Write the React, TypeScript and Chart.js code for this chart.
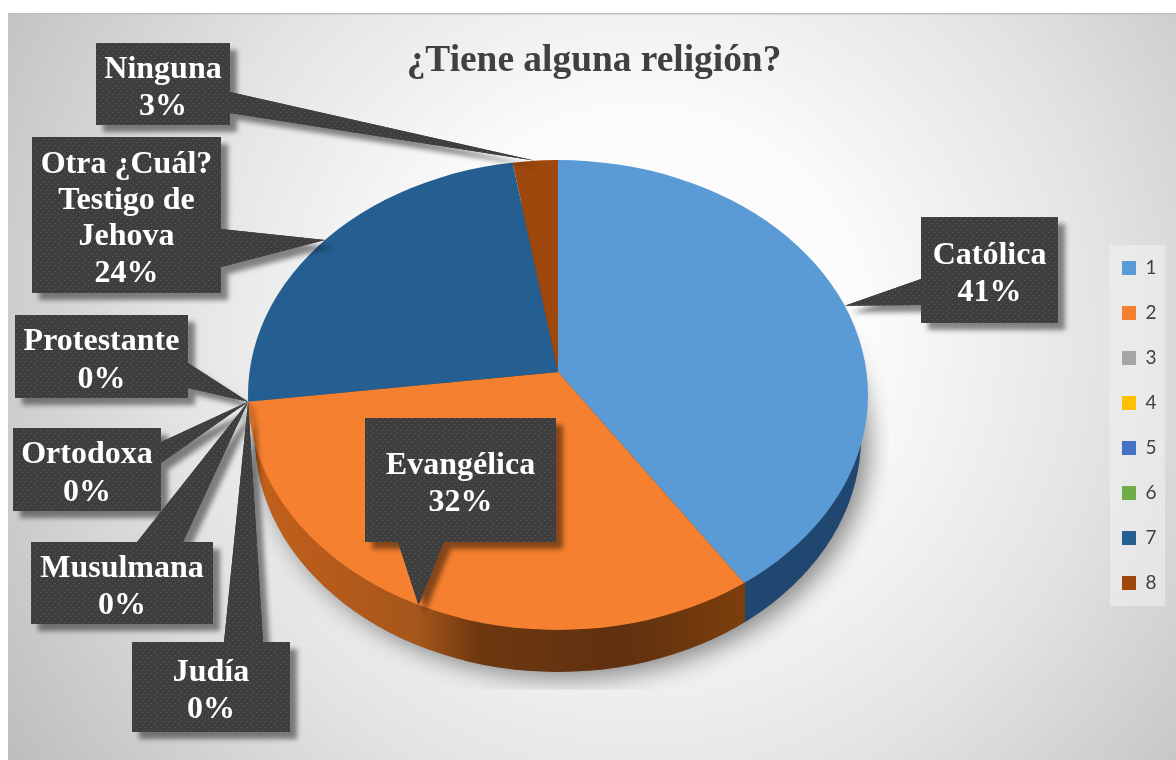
import React, { useEffect, useRef } from "react";
import { Chart, registerables } from "chart.js";

Chart.register(...registerables);

// ---------- data ----------
const titleText = "¿Tiene alguna religión?";
const legendKeys = ["1", "2", "3", "4", "5", "6", "7", "8"];
const categoryNames = [
  ["Católica"],
  ["Evangélica"],
  ["Protestante"],
  ["Ortodoxa"],
  ["Musulmana"],
  ["Judía"],
  ["Otra ¿Cuál?", "Testigo de", "Jehova"],
  ["Ninguna"],
];
const percentValues = [40.6, 32.4, 0, 0, 0, 0, 24.4, 2.6];
const sliceColors = ["#5b9bd5", "#f5802f", "#a5a5a5", "#ffc000", "#4472c4", "#70ad47", "#255e91", "#9e480e"];

// ---------- layout (callout boxes, by slice index) ----------
type Box = { x0: number; y0: number; x1: number; y1: number; side: "l" | "r" | "t" | "b"; a: number; b: number };
const calloutBoxes: Box[] = [
  { x0: 921, y0: 217, x1: 1058, y1: 323, side: "l", a: 279, b: 305 },
  { x0: 365, y0: 418, x1: 556, y1: 542, side: "b", a: 398, b: 444 },
  { x0: 15, y0: 315, x1: 188, y1: 398, side: "r", a: 363, b: 388 },
  { x0: 13, y0: 428, x1: 161, y1: 511, side: "r", a: 442, b: 463 },
  { x0: 31, y0: 542, x1: 213, y1: 624, side: "t", a: 137, b: 183 },
  { x0: 132, y0: 642, x1: 290, y1: 732, side: "t", a: 224, b: 263 },
  { x0: 32, y0: 137, x1: 221, y1: 293, side: "r", a: 229, b: 267 },
  { x0: 96, y0: 43, x1: 230, y1: 125, side: "r", a: 92, b: 113 },
];
const APEX_X = 558;
const APEX_Y = 372;
const RIM_CY = 395;
const RIM_RX = 310;
const RIM_RY = 235;
const SQUASH = 0.76;
const DEPTH = 42;
const LOWER_RX = 303;
const SERIF = '"Liberation Serif", "Times New Roman", serif';

function makeDots(ctx: CanvasRenderingContext2D) {
  const c = document.createElement("canvas");
  c.width = 6;
  c.height = 6;
  const g = c.getContext("2d")!;
  g.fillStyle = "#3e3e3e";
  g.fillRect(0, 0, 6, 6);
  g.fillStyle = "rgba(255,255,255,0.17)";
  g.fillRect(1, 1, 1, 1);
  g.fillRect(4, 4, 1, 1);
  return ctx.createPattern(c, "repeat")!;
}

function rimPoint(midAngle: number) {
  const dx = Math.cos(midAngle);
  const dy = Math.sin(midAngle) * SQUASH;
  const oy = APEX_Y - RIM_CY;
  const A = (dx * dx) / (RIM_RX * RIM_RX) + (dy * dy) / (RIM_RY * RIM_RY);
  const B = (2 * oy * dy) / (RIM_RY * RIM_RY);
  const C = (oy * oy) / (RIM_RY * RIM_RY) - 1;
  const t = (-B + Math.sqrt(B * B - 4 * A * C)) / (2 * A);
  return { x: APEX_X + dx * t, y: APEX_Y + dy * t };
}

function calloutPath(ctx: CanvasRenderingContext2D, b: Box, tip: { x: number; y: number }) {
  ctx.beginPath();
  ctx.moveTo(b.x0, b.y0);
  if (b.side === "t") {
    ctx.lineTo(b.a, b.y0);
    ctx.lineTo(tip.x, tip.y);
    ctx.lineTo(b.b, b.y0);
  }
  ctx.lineTo(b.x1, b.y0);
  if (b.side === "r") {
    ctx.lineTo(b.x1, b.a);
    ctx.lineTo(tip.x, tip.y);
    ctx.lineTo(b.x1, b.b);
  }
  ctx.lineTo(b.x1, b.y1);
  if (b.side === "b") {
    ctx.lineTo(b.b, b.y1);
    ctx.lineTo(tip.x, tip.y);
    ctx.lineTo(b.a, b.y1);
  }
  ctx.lineTo(b.x0, b.y1);
  if (b.side === "l") {
    ctx.lineTo(b.x0, b.b);
    ctx.lineTo(tip.x, tip.y);
    ctx.lineTo(b.x0, b.a);
  }
  ctx.closePath();
}

const chartFacePlugin = {
  id: "chartFace",
  afterLayout(chart: any) {
    // keep the pie centre on its place whatever the legend and title take
    chart.chartArea.left = 8;
    chart.chartArea.right = 1108;
    chart.chartArea.top = 80;
    chart.chartArea.bottom = 664;
    chart.legend.left = 1096;
    chart.legend.top = 232.5;
    chart.titleBlock.left += 6;
    chart.titleBlock.right += 6;
  },
  beforeDraw(chart: any) {
    const { ctx } = chart;
    ctx.save();
    ctx.fillStyle = "#ffffff";
    ctx.fillRect(0, 0, 1176, 760);
    const g = ctx.createRadialGradient(640, 340, 0, 640, 340, 760);
    g.addColorStop(0, "#ffffff");
    g.addColorStop(0.3, "#fbfbfb");
    g.addColorStop(0.62, "#e3e3e3");
    g.addColorStop(1, "#bdbdbd");
    ctx.fillStyle = g;
    ctx.fillRect(8, 14, 1168, 746);
    ctx.fillStyle = "#bfbfbf";
    ctx.fillRect(8, 13, 1168, 1.5);
    ctx.fillStyle = "rgba(242,242,242,0.55)";
    ctx.fillRect(1110, 245, 55, 361);
    ctx.restore();
  },
  beforeDatasetsDraw(chart: any) {
    const { ctx } = chart;
    const sideY = RIM_CY + DEPTH;
    const lower = () => {
      ctx.beginPath();
      ctx.ellipse(APEX_X, sideY, LOWER_RX, RIM_RY, 0, 0, Math.PI * 2);
    };
    // soft shadow of the pie, cut off like the reference
    ctx.save();
    ctx.beginPath();
    ctx.rect(0, 0, 889, 689.5);
    ctx.clip();
    ctx.shadowColor = "rgba(0,0,0,0.45)";
    ctx.shadowBlur = 24;
    ctx.shadowOffsetX = 8;
    ctx.shadowOffsetY = 6;
    ctx.fillStyle = "#777";
    lower();
    ctx.fill();
    ctx.restore();
    // side walls
    const brown = ctx.createLinearGradient(250, 0, 745, 0);
    brown.addColorStop(0, "#c4601b");
    brown.addColorStop(0.34, "#a5561b");
    brown.addColorStop(0.46, "#6e3810");
    brown.addColorStop(0.75, "#5f300f");
    brown.addColorStop(1, "#7c3f0c");
    ctx.save();
    ctx.beginPath();
    ctx.rect(0, 0, 745, 760);
    ctx.clip();
    ctx.fillStyle = brown;
    lower();
    ctx.fill();
    ctx.restore();
    ctx.save();
    ctx.beginPath();
    ctx.rect(745, 0, 431, 760);
    ctx.clip();
    ctx.fillStyle = "#20476f";
    lower();
    ctx.fill();
    ctx.restore();
    // squash the library's round pie to the tilted top face
    ctx.save();
    ctx.beginPath();
    ctx.ellipse(APEX_X, RIM_CY, RIM_RX, RIM_RY, 0, 0, Math.PI * 2);
    ctx.clip();
    const el = chart.getDatasetMeta(0).data[0];
    ctx.translate(el.x, el.y);
    ctx.scale(1, SQUASH);
    ctx.translate(-el.x, -el.y);
  },
  afterDatasetsDraw(chart: any) {
    const { ctx } = chart;
    ctx.restore();
    const dots = makeDots(ctx);
    const arcs = chart.getDatasetMeta(0).data;
    const order = [0, 1, 7, 6, 2, 3, 4, 5];
    order.forEach((i) => {
      const { startAngle, endAngle } = arcs[i].getProps(["startAngle", "endAngle"], true);
      const tip = rimPoint((startAngle + endAngle) / 2);
      const b = calloutBoxes[i];
      ctx.save();
      ctx.shadowColor = "rgba(0,0,0,0.45)";
      ctx.shadowBlur = 5;
      ctx.shadowOffsetX = 7;
      ctx.shadowOffsetY = 7;
      calloutPath(ctx, b, tip);
      ctx.fillStyle = "#3e3e3e";
      ctx.fill();
      ctx.restore();
      calloutPath(ctx, b, tip);
      ctx.fillStyle = dots;
      ctx.fill();
    });
    order.forEach((i) => {
      const b = calloutBoxes[i];
      const lines = [...categoryNames[i], `${Math.round(percentValues[i])}%`];
      const lh = lines.length > 2 ? 36.3 : 37.5;
      const cx = (b.x0 + b.x1) / 2;
      const cy = (b.y0 + b.y1) / 2 + 4;
      ctx.save();
      ctx.font = `bold 32px ${SERIF}`;
      ctx.fillStyle = "#ffffff";
      ctx.textAlign = "center";
      ctx.textBaseline = "middle";
      lines.forEach((t, k) => ctx.fillText(t, cx, cy + (k - (lines.length - 1) / 2) * lh));
      ctx.restore();
    });
  },
};

export default function App() {
  const ref = useRef<HTMLCanvasElement>(null);
  useEffect(() => {
    const chart = new Chart(ref.current!, {
      type: "pie",
      data: {
        labels: legendKeys,
        datasets: [{ data: percentValues, backgroundColor: sliceColors, borderWidth: 0 }],
      },
      options: {
        animation: false,
        responsive: false,
        radius: 350,
        plugins: {
          tooltip: { enabled: false },
          title: {
            display: true,
            text: titleText,
            color: "#404040",
            font: { family: SERIF, size: 37.4, weight: "bold" },
            padding: { top: 39, bottom: 0 },
          },
          legend: {
            display: true,
            position: "right",
            align: "start",
            onClick: () => {},
            labels: {
              boxWidth: 14,
              boxHeight: 14,
              padding: 26,
              color: "#404040",
              font: { family: "Lato", size: 19 },
            },
          },
        },
      } as any,
      plugins: [chartFacePlugin],
    });
    return () => chart.destroy();
  }, []);
  return (
    <div style={{ position: "fixed", left: 0, top: 0, width: 1176, height: 760 }}>
      <canvas ref={ref} width={1176} height={760} style={{ display: "block" }} />
    </div>
  );
}
